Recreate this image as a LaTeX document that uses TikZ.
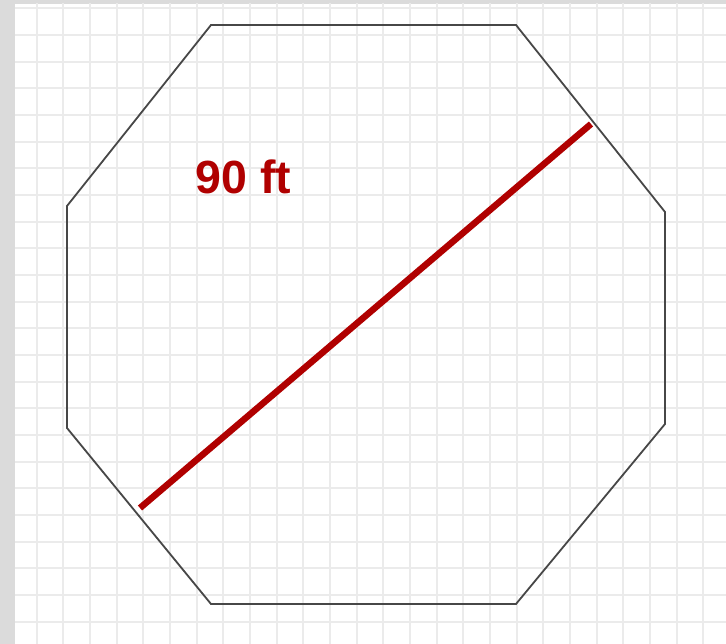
\documentclass[tikz,border=0pt]{standalone}
\usepackage{fontspec}
\setmainfont{Liberation Sans}
\begin{document}
\begin{tikzpicture}[x=1pt,y=-1pt,
  gridline/.style={draw=black!8, line width=2pt},
  octo/.style={draw=black!72, line width=1.8pt, line join=miter},
  diam/.style={draw=redmark, line width=6.5pt},
  lbl/.style={text=redmark, font=\bfseries\fontsize{46.5}{50}\selectfont, inner sep=0pt, anchor=base west}]
\definecolor{redmark}{HTML}{B00000}
\useasboundingbox (0,0) rectangle (726,644);
% background
\fill[black!14] (0,0) rectangle (726,644);
\fill[white] (15,4) rectangle (726,644);
% grid
\begin{scope}
\clip (15,4) rectangle (726,644);
\foreach \i in {0,...,27} {
  \draw[gridline] ({10+26.67*\i},0) -- ({10+26.67*\i},644);
}
\foreach \j in {0,...,24} {
  \draw[gridline] (0,{8.3+26.67*\j}) -- (726,{8.3+26.67*\j});
}
\end{scope}
% octagon
\coordinate (v1) at (211,25);
\coordinate (v2) at (516,25);
\coordinate (v3) at (665,212);
\coordinate (v4) at (665,424);
\coordinate (v5) at (516,604);
\coordinate (v6) at (211,604);
\coordinate (v7) at (67,428);
\coordinate (v8) at (67,206);
\draw[octo] (v1) -- (v2) -- (v3) -- (v4) -- (v5) -- (v6) -- (v7) -- (v8) -- cycle;
% diameter
\coordinate (d1) at (140,508);
\coordinate (d2) at (591,124);
\draw[diam] (d1) -- (d2);
\node[lbl] (label) at (195.5,193.5) {90 ft};
\end{tikzpicture}
\end{document}
